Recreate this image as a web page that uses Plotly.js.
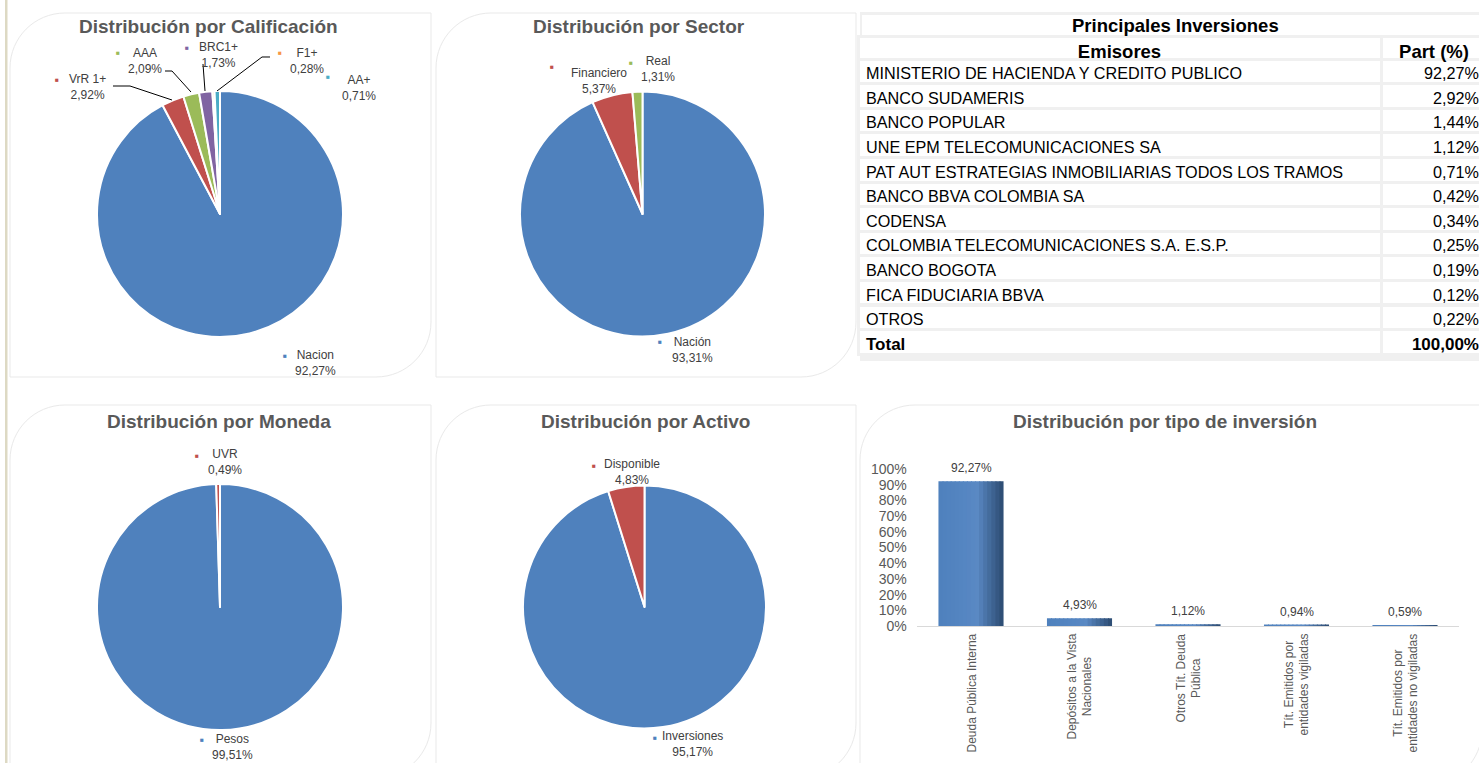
<!DOCTYPE html>
<html><head><meta charset="utf-8">
<script src="https://cdn.plot.ly/plotly-3.0.1.min.js"></script>
<style>html,body{margin:0;padding:0;overflow:hidden;background:#fff;width:1479px;height:763px}#chart{width:1500px;height:763px}</style>
</head><body><div id="chart"></div>
<script>
// ---------------- DATA ----------------
const ratingLabels = ['Nacion', 'VrR 1+', 'AAA', 'BRC1+', 'F1+', 'AA+'];
const ratingValues = [92.27, 2.92, 2.09, 1.73, 0.28, 0.71];
const sectorLabels = ['Nación', 'Financiero', 'Real'];
const sectorValues = [93.31, 5.37, 1.31];
const currencyLabels = ['Pesos', 'UVR'];
const currencyValues = [99.51, 0.49];
const assetLabels = ['Inversiones', 'Disponible'];
const assetValues = [95.17, 4.83];
const issuerNames = ['MINISTERIO DE HACIENDA Y CREDITO PUBLICO', 'BANCO SUDAMERIS', 'BANCO POPULAR',
  'UNE EPM TELECOMUNICACIONES SA', 'PAT AUT ESTRATEGIAS INMOBILIARIAS TODOS LOS TRAMOS',
  'BANCO BBVA COLOMBIA SA', 'CODENSA', 'COLOMBIA TELECOMUNICACIONES S.A. E.S.P.',
  'BANCO BOGOTA', 'FICA FIDUCIARIA BBVA', 'OTROS'];
const issuerShares = [92.27, 2.92, 1.44, 1.12, 0.71, 0.42, 0.34, 0.25, 0.19, 0.12, 0.22];
const totalLabel = 'Total';
const totalShare = 100.00;
const tableHeaders = ['Emisores', 'Part (%)'];
const investTypes = ['Deuda Pública Interna', 'Depósitos a la Vista<br>Nacionales', 'Otros Tít. Deuda<br>Pública',
  'Tít. Emitidos por<br>entidades vigiladas', 'Tít. Emitidos por<br>entidades no vigiladas'];
const investShares = [92.27, 4.93, 1.12, 0.94, 0.59];
const yTickVals = [0, 10, 20, 30, 40, 50, 60, 70, 80, 90, 100];
const yTickText = ['0%', '10%', '20%', '30%', '40%', '50%', '60%', '70%', '80%', '90%', '100%'];

// ---------------- STYLE / POSITIONS ----------------
const W = 1500, H = 763;
const X = p => p / W, Y = p => 1 - p / H;
const FONT = 'Liberation Sans, Arial, Helvetica, sans-serif';
const LABEL_COLOR = '#404040';
const TITLE_COLOR = '#595959';
const fmt = v => v.toFixed(2).replace('.', ',') + '%';
const office = ['#4f81bd', '#c0504d', '#9bbb59', '#8064a2', '#f79646', '#4bacc6'];

function P(x, y) { return X(x).toFixed(6) + ',' + Y(y).toFixed(6); }
function roundedPanel(x0, y0, x1, y1, r) {
  const k = 0.5523 * r;
  return 'M' + P(x0, y0 + r) + ' C' + P(x0, y0 + r - k) + ' ' + P(x0 + r - k, y0) + ' ' + P(x0 + r, y0) +
    ' L' + P(x1, y0) + ' L' + P(x1, y1 - r) + ' C' + P(x1, y1 - r + k) + ' ' + P(x1 - r + k, y1) + ' ' + P(x1 - r, y1) +
    ' L' + P(x0, y1) + ' Z';
}
function polyPath(pts) { return pts.map((p, i) => (i ? 'L' : 'M') + P(p[0], p[1])).join(' '); }

const shapes = [];
shapes.push({type: 'rect', xref: 'paper', yref: 'paper', x0: X(5), x1: X(7.5), y0: 0, y1: 1, fillcolor: '#ddd9c3', line: {width: 0}, layer: 'below'});
[[10, 13, 431, 377], [436, 13, 856, 377], [10, 405, 431, 778], [436, 405, 856, 778], [860, 405, 1482, 785]].forEach(b => {
  shapes.push({type: 'path', xref: 'paper', yref: 'paper', path: roundedPanel(b[0], b[1], b[2], b[3], 55),
    fillcolor: '#ffffff', line: {color: '#e9e9e9', width: 1}, layer: 'below'});
});
shapes.push({type: 'rect', xref: 'paper', yref: 'paper', x0: X(860), x1: X(1500), y0: Y(361), y1: Y(12), fillcolor: '#f0f0f0', line: {width: 0}, layer: 'below'});
shapes.push({type: 'rect', xref: 'paper', yref: 'paper', x0: X(862), x1: X(1486), y0: Y(36), y1: Y(15), fillcolor: '#ffffff', line: {width: 0}, layer: 'below'});
const leaderPaths = [
  [[113, 86], [130, 86], [172, 100]],
  [[165, 71], [172, 71], [191, 92]],
  [[203, 64], [205, 91]],
  [[270, 57], [262, 57], [217, 91]]
];
leaderPaths.forEach(p => shapes.push({type: 'path', xref: 'paper', yref: 'paper', path: polyPath(p), line: {color: '#000', width: 1}}));

const annotations = [];
function addText(x, y, text, size, color, opts) {
  annotations.push(Object.assign({xref: 'paper', yref: 'paper', x: X(x), y: Y(y), text: text, showarrow: false,
    xanchor: 'center', yanchor: 'middle', font: {family: FONT, size: size, color: color}}, opts || {}));
}
addText(208, 27, '<b>Distribución por Calificación</b>', 19, TITLE_COLOR);
addText(639, 27, '<b>Distribución por Sector</b>', 19, TITLE_COLOR);
addText(219, 421, '<b>Distribución por Moneda</b>', 19, TITLE_COLOR);
addText(645, 421, '<b>Distribución por Activo</b>', 19, TITLE_COLOR);
addText(1165, 421, '<b>Distribución por tipo de inversión</b>', 19, TITLE_COLOR);
addText(1175, 26, '<b>Principales Inversiones</b>', 18.5, '#000');

const ratingLabelPos = [[315, 362.5], [87, 87], [145, 60.5], [218, 55], [307, 60.5], [359, 88]];
const ratingBulletPos = [[285, 355], [57, 79], [118, 52], [187, 47], [280, 52], [328, 76]];
const sectorLabelPos = [[692, 349.5], [599, 81.5], [658, 69]];
const sectorBulletPos = [[660, 342], [552, 66], [631, 62]];
const currencyLabelPos = [[233, 746.5], [224.5, 462]];
const currencyBulletPos = [[202, 739.5], [197, 455]];
const assetLabelPos = [[692, 744], [632, 472]];
const assetBulletPos = [[655, 737], [594, 465]];

function pieLabels(labels, values, lpos, bpos) {
  labels.forEach((l, i) => {
    addText(lpos[i][0], lpos[i][1], l + '<br>' + fmt(values[i]), 12, LABEL_COLOR);
    addText(bpos[i][0], bpos[i][1], '■', 6.5, office[i]);
  });
}
pieLabels(ratingLabels, ratingValues, ratingLabelPos, ratingBulletPos);
pieLabels(sectorLabels, sectorValues, sectorLabelPos, sectorBulletPos);
pieLabels(currencyLabels, currencyValues, currencyLabelPos, currencyBulletPos);
pieLabels(assetLabels, assetValues, assetLabelPos, assetBulletPos);

function pie(labels, values, box) {
  return {type: 'pie', labels: labels, values: values, sort: false, direction: 'clockwise', rotation: 0,
    textinfo: 'none', hoverinfo: 'skip', showlegend: false,
    marker: {colors: office.slice(0, labels.length), line: {color: '#ffffff', width: 2}},
    domain: {x: [X(box[0]), X(box[2])], y: [Y(box[3]), Y(box[1])]}};
}

const traces = [
  pie(ratingLabels, ratingValues, [97, 91, 343, 337]),
  pie(sectorLabels, sectorValues, [520, 91.5, 765, 336.5]),
  pie(currencyLabels, currencyValues, [97, 484, 343, 730]),
  pie(assetLabels, assetValues, [523, 485.5, 766, 728.5])
];

// table
const n = issuerNames.length;
const bodySize = 16.2, totalSize = 17;
const colSizes = Array(n).fill(bodySize).concat([totalSize]);
const colWeights = Array(n).fill('normal').concat(['bold']);
traces.push({
  type: 'table',
  domain: {x: [X(858), X(1487)], y: [Y(362), Y(36)]},
  columnwidth: [523, 106],
  header: {
    values: [[tableHeaders[0]], [tableHeaders[1]]],
    align: 'center', height: 23,
    fill: {color: '#ffffff'}, line: {color: '#f0f0f0', width: 3},
    font: {family: FONT, size: 18.5, color: '#000', weight: 'bold'}
  },
  cells: {
    values: [issuerNames.concat([totalLabel]), issuerShares.map(fmt).concat([fmt(totalShare)])],
    align: ['left', 'right'], height: 24.6,
    fill: {color: '#ffffff'}, line: {color: '#f0f0f0', width: 3},
    font: {family: FONT, color: '#000', size: [colSizes, colSizes], weight: [colWeights, colWeights]}
  }
});

// bar chart with horizontal gradient (slices of the same bars)
const gradStops = [[0, [79, 129, 189]], [0.45, [86, 134, 194]], [0.6, [90, 137, 195]], [0.7, [77, 120, 173]], [1, [44, 74, 112]]];
function gradColor(t) {
  for (let i = 1; i < gradStops.length; i++) {
    if (t <= gradStops[i][0]) {
      const a = gradStops[i - 1], b = gradStops[i];
      const f = (t - a[0]) / (b[0] - a[0]);
      const c = a[1].map((v, k) => Math.round(v + (b[1][k] - v) * f));
      return 'rgb(' + c.join(',') + ')';
    }
  }
  return 'rgb(44,74,112)';
}
const barWidth = 0.6, slices = 16, sw = barWidth / slices;
for (let s = 0; s < slices; s++) {
  traces.push({type: 'bar', x: investTypes, y: investShares, xaxis: 'x', yaxis: 'y',
    offset: -barWidth / 2 + s * sw, width: s === slices - 1 ? sw : sw * 1.25,
    marker: {color: gradColor((s + 0.5) / slices), line: {width: 0}},
    hoverinfo: 'skip', showlegend: false});
}
investShares.forEach((v, i) => {
  annotations.push({xref: 'x', yref: 'y', x: investTypes[i], y: v, text: fmt(v), showarrow: false,
    yanchor: 'bottom', yshift: 4, font: {family: FONT, size: 12, color: LABEL_COLOR}});
  annotations.push({xref: 'x', yref: 'paper', x: investTypes[i], y: Y(632), text: investTypes[i], showarrow: false,
    textangle: -90, yanchor: 'top', xanchor: 'center', align: 'center', font: {family: FONT, size: 12, color: TITLE_COLOR}});
});

const layout = {
  width: W, height: H, margin: {l: 0, r: 0, t: 0, b: 0}, showlegend: false,
  paper_bgcolor: '#ffffff', plot_bgcolor: 'rgba(0,0,0,0)', font: {family: FONT},
  barmode: 'overlay',
  xaxis: {domain: [X(916.75), X(1459.25)], type: 'category', range: [-0.5, 4.5], showticklabels: false,
    showline: true, linecolor: '#d9d9d9', linewidth: 1, ticks: '', showgrid: false, zeroline: false, fixedrange: true},
  yaxis: {domain: [Y(626), Y(469)], range: [0, 100], tickmode: 'array', tickvals: yTickVals, ticktext: yTickText,
    showgrid: false, showline: false, zeroline: false, ticks: '', ticklabelstandoff: 9, fixedrange: true,
    tickfont: {family: FONT, size: 14, color: TITLE_COLOR}},
  shapes: shapes, annotations: annotations
};

Plotly.newPlot('chart', traces, layout, {staticPlot: true, displayModeBar: false});
</script></body></html>
